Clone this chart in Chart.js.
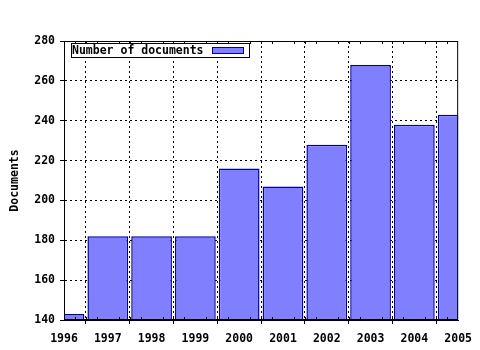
<!DOCTYPE html>
<html lang="en">
<head>
  <meta charset="UTF-8">
  <title>Number of documents</title>
  <script src="https://cdn.jsdelivr.net/npm/chart.js"></script>
  <style>
    html, body { margin: 0; padding: 0; background: #fff; }
    #wrap { width: 480px; height: 350px; }
  </style>
</head>
<body>
  <div id="wrap"><canvas id="docChart" width="480" height="350"></canvas></div>
  <script>
    const years = [1996, 1997, 1998, 1999, 2000, 2001, 2002, 2003, 2004, 2005];
    const documents = [143, 182, 182, 182, 216, 207, 228, 268, 238, 243];
    const seriesLabel = 'Number of documents';
    const yTitle = 'Documents';

    const FONT = 'DejaVu Sans Mono';
    const fill = '#8080ff';
    const edge = '#0000a0';

    // gnuplot-style frame, minor ticks and the boxed legend
    const framePlugin = {
      id: 'frame',
      afterDraw(chart) {
        const { ctx, chartArea: a, scales } = chart;
        ctx.save();
        ctx.strokeStyle = '#000';
        ctx.lineWidth = 1;
        ctx.setLineDash([]);
        ctx.strokeRect(a.left + 0.5, a.top + 0.5, a.right - a.left - 1, a.bottom - a.top - 1);

        // minor ticks on x (quarters), inside top and bottom
        ctx.beginPath();
        for (let i = 0; i < years.length - 1; i++) {
          for (let q = 1; q < 4; q++) {
            const x = Math.round(scales.x.getPixelForValue(years[i] + q / 4)) + 0.5;
            ctx.moveTo(x, a.bottom); ctx.lineTo(x, a.bottom - 3);
            ctx.moveTo(x, a.top); ctx.lineTo(x, a.top + 3);
          }
        }
        ctx.stroke();

        // legend box
        const lx = a.left + 7, ly = a.top + 2;
        ctx.fillStyle = '#fff';
        ctx.fillRect(lx, ly, 178, 14);
        ctx.strokeRect(lx + 0.5, ly + 0.5, 178, 14);
        ctx.fillStyle = '#000';
        ctx.font = 'bold 11.5px "' + FONT + '"';
        ctx.textBaseline = 'middle';
        ctx.fillText(seriesLabel, lx + 1, ly + 8);
        ctx.fillStyle = fill;
        ctx.fillRect(lx + 141, ly + 4, 31, 6);
        ctx.strokeStyle = edge;
        ctx.strokeRect(lx + 141.5, ly + 4.5, 31, 6);
        ctx.restore();
      }
    };

    const gridOpts = {
      color: '#000',
      tickColor: '#000',
      tickLength: 4,
      tickBorderDash: [],
      lineWidth: 1
    };

    const ctx = document.getElementById('docChart').getContext('2d');
    new Chart(ctx, {
      type: 'bar',
      data: {
        datasets: [{
          label: seriesLabel,
          data: years.map((y, i) => ({ x: y, y: documents[i] })),
          backgroundColor: fill,
          borderColor: edge,
          borderWidth: 1.5,
          barPercentage: 0.93,
          categoryPercentage: 1,
          clip: 0
        }]
      },
      options: {
        responsive: false,
        animation: false,
        layout: { padding: { top: 41, right: 21, left: 8, bottom: 0 } },
        plugins: { legend: { display: false }, tooltip: { enabled: false } },
        scales: {
          x: {
            type: 'linear',
            min: 1996,
            max: 2005,
            offset: false,
            afterFit: s => { s.height = 30; },
            ticks: {
              stepSize: 1,
              color: '#000',
              font: { family: FONT, weight: 'bold', size: 11.5 },
              maxRotation: 0,
              padding: 8,
              callback: v => String(v)
            },
            grid: gridOpts,
            border: { display: true, color: '#000', dash: [2, 3] }
          },
          y: {
            min: 140,
            max: 280,
            afterFit: s => { s.width = 56; },
            ticks: {
              stepSize: 20,
              color: '#000',
              font: { family: FONT, weight: 'bold', size: 11.5 },
              padding: 5
            },
            grid: gridOpts,
            border: { display: true, color: '#000', dash: [2, 3] },
            title: {
              display: true,
              text: yTitle,
              color: '#000',
              font: { family: FONT, weight: 'bold', size: 11.5 },
              padding: { top: 0, bottom: 0 }
            }
          }
        }
      },
      plugins: [framePlugin]
    });
  </script>
</body>
</html>
